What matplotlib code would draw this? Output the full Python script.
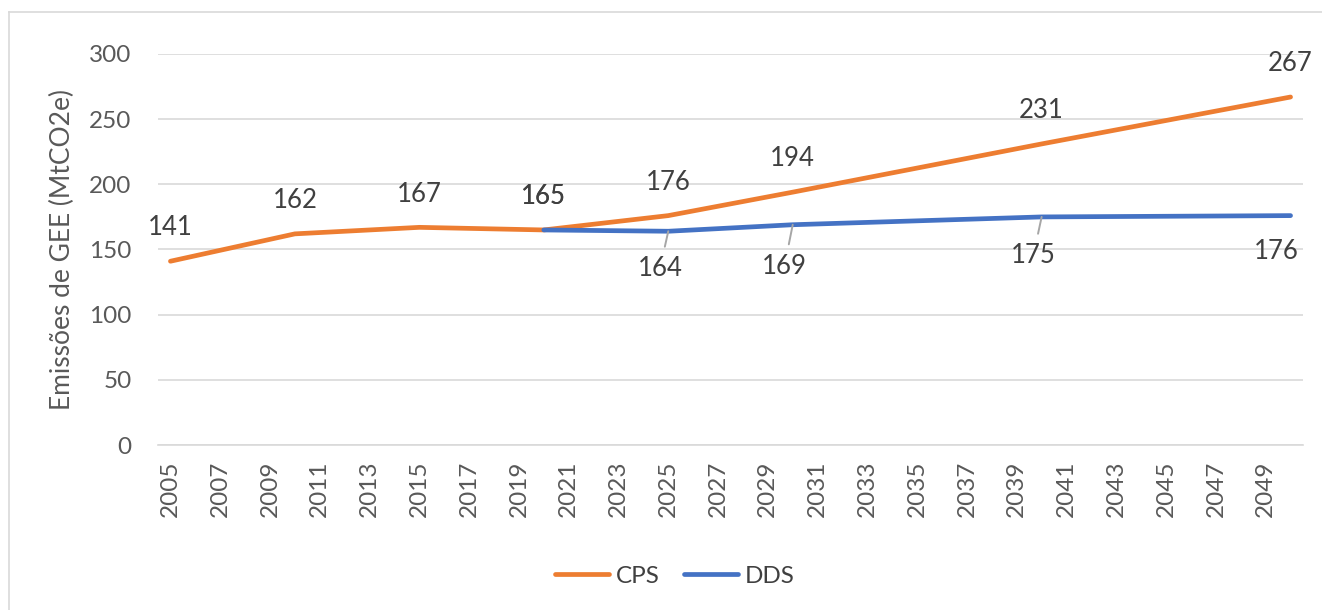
import matplotlib.pyplot as plt
from matplotlib.lines import Line2D

# data
years = list(range(2005, 2051))
tick_years = list(range(2005, 2050, 2))

cps_years = [2005, 2010, 2015, 2020, 2025, 2030, 2040, 2050]
cps_values = [141, 162, 167, 165, 176, 194, 231, 267]

dds_years = [2020, 2025, 2030, 2040, 2050]
dds_values = [165, 164, 169, 175, 176]

orange = "#ED7D31"
blue = "#4472C4"
grid_col = "#D9D9D9"
txt_col = "#404040"
tick_col = "#595959"

plt.rcParams['font.family'] = ['Lato', 'DejaVu Sans']

fig = plt.figure(figsize=(13.22, 6.10), dpi=100)
ax = fig.add_axes([158 / 1322, 1 - 445 / 610, 1145 / 1322, 391 / 610])

# chart area border (only left / top visible in the crop)
fig.add_artist(Line2D([9 / 1322, 9 / 1322], [0, 1 - 12 / 610], color=grid_col, lw=1.2))
fig.add_artist(Line2D([9 / 1322, 1], [1 - 12 / 610, 1 - 12 / 610], color=grid_col, lw=1.2))

ax.plot(cps_years, cps_values, color=orange, lw=3.4, solid_capstyle='round', solid_joinstyle='round', zorder=3)
ax.plot(dds_years, dds_values, color=blue, lw=3.4, solid_capstyle='round', solid_joinstyle='round', zorder=4)

ax.set_xlim(2004.5, 2050.5)
ax.set_ylim(0, 300)
ax.set_yticks(range(0, 301, 50))
ax.set_xticks(tick_years)
ax.set_xticklabels([str(y) for y in tick_years], rotation=90)
ax.grid(axis='y', color=grid_col, lw=1.2)
ax.set_axisbelow(True)
for s in ['top', 'right', 'left']:
    ax.spines[s].set_visible(False)
ax.spines['bottom'].set_color(grid_col)
ax.spines['bottom'].set_linewidth(1.2)
ax.tick_params(axis='both', length=0, labelsize=17.5, colors=tick_col)
ax.tick_params(axis='y', pad=19)
ax.tick_params(axis='x', pad=11)
ax.set_ylabel("Emissões de GEE (MtCO2e)", fontsize=19, color=tick_col, labelpad=10)

# CPS labels above the line
for x, v in zip(cps_years, cps_values):
    ax.annotate(str(v), (x, v), xytext=(0, 24), textcoords='offset points',
                ha='center', va='center', fontsize=18.5, color=txt_col)

# DDS labels: 2020 sits on top of the CPS one, others below with leader lines
dds_offsets = {2020: (0, 24), 2025: (-6, -27), 2030: (-6, -30), 2040: (-6, -28), 2050: (-10, -26)}
for x, v in zip(dds_years, dds_values):
    off = dds_offsets[x]
    if x in (2025, 2030, 2040):
        ax.annotate(str(v), (x, v), xytext=off, textcoords='offset points',
                    ha='center', va='center', fontsize=18.5, color=txt_col, zorder=5,
                    arrowprops=dict(arrowstyle='-', color='#A6A6A6', lw=1.4,
                                    shrinkA=5, shrinkB=0))
    else:
        ax.annotate(str(v), (x, v), xytext=off, textcoords='offset points',
                    ha='center', va='center', fontsize=18.5, color=txt_col)

handles = [Line2D([], [], color=orange, lw=3.4, solid_capstyle='round'),
           Line2D([], [], color=blue, lw=3.4, solid_capstyle='round')]
fig.legend(handles, ["CPS", "DDS"], loc='center', bbox_to_anchor=(675 / 1322, 1 - 576 / 610),
           ncol=2, frameon=False, fontsize=17.5, labelcolor=txt_col, handlelength=2.2,
           handletextpad=0.3, columnspacing=1.0)

fig.savefig("out.png", dpi=100, facecolor='white')
